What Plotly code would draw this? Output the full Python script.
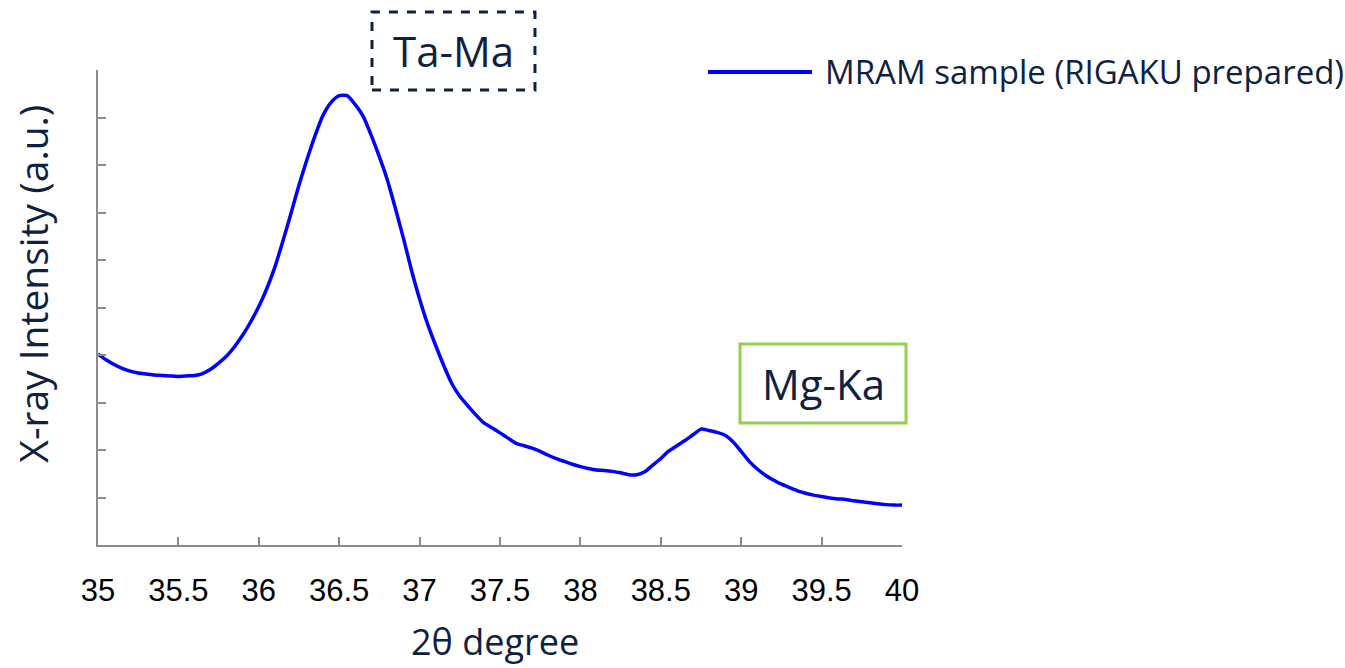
import plotly.graph_objects as go

# XRD scan: 2-theta (degree) vs. intensity (arbitrary units)
two_theta = [
    35.00, 35.05, 35.10, 35.15, 35.20, 35.25, 35.30, 35.35, 35.40, 35.45,
    35.50, 35.55, 35.60, 35.65, 35.70, 35.75, 35.80, 35.85, 35.90, 35.95,
    36.00, 36.05, 36.10, 36.15, 36.20, 36.25, 36.30, 36.35, 36.40, 36.45,
    36.50, 36.55, 36.60, 36.65, 36.70, 36.75, 36.80, 36.85, 36.90, 36.95,
    37.00, 37.05, 37.10, 37.15, 37.20, 37.25, 37.30, 37.35, 37.40, 37.45,
    37.50, 37.55, 37.60, 37.65, 37.70, 37.75, 37.80, 37.85, 37.90, 37.95,
    38.00, 38.05, 38.10, 38.15, 38.20, 38.25, 38.30, 38.35, 38.40, 38.45,
    38.50, 38.55, 38.60, 38.65, 38.70, 38.75, 38.80, 38.85, 38.90, 38.95,
    39.00, 39.05, 39.10, 39.15, 39.20, 39.25, 39.30, 39.35, 39.40, 39.45,
    39.50, 39.55, 39.60, 39.65, 39.70, 39.75, 39.80, 39.85, 39.90, 39.95,
    40.00,
]
intensity = [
    4.02, 3.90, 3.80, 3.72, 3.66, 3.62, 3.60, 3.58, 3.57, 3.56,
    3.55, 3.56, 3.57, 3.61, 3.70, 3.83, 3.98, 4.18, 4.42, 4.70,
    5.02, 5.40, 5.85, 6.40, 6.98, 7.58, 8.12, 8.62, 9.05, 9.32,
    9.46, 9.46, 9.27, 9.02, 8.62, 8.17, 7.68, 7.08, 6.45, 5.78,
    5.18, 4.65, 4.20, 3.78, 3.40, 3.13, 2.93, 2.74, 2.57, 2.47,
    2.36, 2.25, 2.14, 2.09, 2.04, 1.97, 1.89, 1.82, 1.76, 1.70,
    1.65, 1.61, 1.58, 1.57, 1.55, 1.52, 1.48, 1.48, 1.54, 1.68,
    1.82, 1.98, 2.09, 2.20, 2.32, 2.44, 2.41, 2.37, 2.31, 2.17,
    1.97, 1.76, 1.60, 1.47, 1.37, 1.28, 1.21, 1.14, 1.09, 1.05,
    1.02, 0.99, 0.97, 0.96, 0.93, 0.91, 0.89, 0.87, 0.85, 0.84,
    0.84,
]

x_ticks = [35, 35.5, 36, 36.5, 37, 37.5, 38, 38.5, 39, 39.5, 40]
x_tick_text = ["35", "35.5", "36", "36.5", "37", "37.5", "38", "38.5", "39", "39.5", "40"]

series_name = "MRAM sample (RIGAKU prepared)"
peak_labels = ["Ta-Ma", "Mg-Ka"]

NAVY = "#0e2240"
AXIS_GRAY = "#8c8c8c"
TEXT_FONT = "Open Sans"

fig = go.Figure()
fig.add_trace(go.Scatter(
    x=two_theta, y=intensity, mode="lines", name=series_name,
    line=dict(color="#0000ff", width=3.5, shape="spline", smoothing=0.6),
    showlegend=False,
))

fig.update_layout(
    width=1345, height=668,
    margin=dict(l=98, r=443, t=70, b=123),
    paper_bgcolor="white", plot_bgcolor="white",
    xaxis=dict(
        range=[35, 40], tickvals=x_ticks, ticktext=x_tick_text,
        showgrid=False, zeroline=False,
        showline=True, linecolor=AXIS_GRAY, linewidth=2,
        ticks="inside", ticklen=8, tickwidth=2, tickcolor=AXIS_GRAY,
        tickfont=dict(family="Liberation Sans", size=31, color="black"),
        ticklabelstandoff=17,
    ),
    yaxis=dict(
        range=[0, 10], dtick=1, showticklabels=False,
        showgrid=False, zeroline=False,
        showline=True, linecolor=AXIS_GRAY, linewidth=2,
        ticks="inside", ticklen=8, tickwidth=2, tickcolor=AXIS_GRAY,
    ),
)

# axis titles
fig.add_annotation(
    text="2θ degree", xref="paper", yref="paper", x=0.494, y=-0.203,
    xanchor="center", yanchor="middle", showarrow=False,
    font=dict(family=TEXT_FONT, size=36, color=NAVY),
)
fig.add_annotation(
    text="X-ray Intensity (a.u.)", xref="paper", yref="paper", x=-0.081, y=0.55,
    xanchor="center", yanchor="middle", showarrow=False, textangle=-90,
    font=dict(family=TEXT_FONT, size=39, color=NAVY),
)

# legend entry
fig.add_shape(
    type="line", xref="paper", yref="paper",
    x0=0.7587, x1=0.888, y0=0.9958, y1=0.9958,
    line=dict(color="#0000ff", width=4),
)
fig.add_annotation(
    text=series_name, xref="paper", yref="paper", x=0.902, y=0.9958,
    xanchor="left", yanchor="middle", showarrow=False,
    font=dict(family=TEXT_FONT, size=33, color=NAVY),
)

# peak label boxes
fig.add_shape(
    type="rect", xref="paper", yref="paper",
    x0=0.3408, x1=0.5435, y0=0.9579, y1=1.1221,
    line=dict(color=NAVY, width=3, dash="dash"),
)
fig.add_annotation(
    text=peak_labels[0], xref="paper", yref="paper", x=0.4421, y=1.040,
    xanchor="center", yanchor="middle", showarrow=False,
    font=dict(family=TEXT_FONT, size=42, color=NAVY),
)
fig.add_shape(
    type="rect", xref="paper", yref="paper",
    x0=0.7985, x1=1.005, y0=0.2568, y1=0.4232,
    line=dict(color="#92d050", width=3),
)
fig.add_annotation(
    text=peak_labels[1], xref="paper", yref="paper", x=0.9018, y=0.340,
    xanchor="center", yanchor="middle", showarrow=False,
    font=dict(family=TEXT_FONT, size=42, color=NAVY),
)

fig.write_html("out.html")
